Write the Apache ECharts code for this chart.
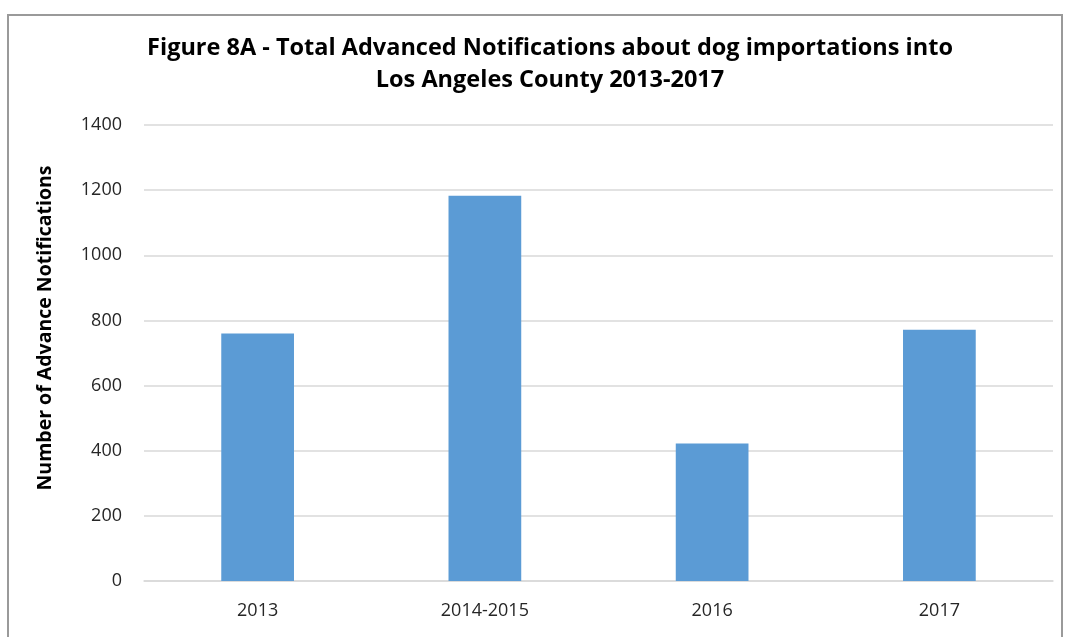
<!DOCTYPE html>
<html><head><meta charset="utf-8">
<script src="https://cdn.jsdelivr.net/npm/echarts@6/dist/echarts.min.js"></script>
<style>html,body{margin:0;padding:0;background:#fff}#c{width:1072px;height:637px}</style>
</head><body><div id="c"></div>
<script>
const categories = ['2013', '2014-2015', '2016', '2017'];
const notifications = [760, 1183, 422, 771];
const yTicks = [0, 200, 400, 600, 800, 1000, 1200, 1400];

const chart = echarts.init(document.getElementById('c'));
const font = '"Open Sans", sans-serif';
chart.setOption({
  animation: false,
  title: {
    text: 'Figure 8A - Total Advanced Notifications about dog importations into\nLos Angeles County 2013-2017',
    left: 545, top: 27, textAlign: 'center',
    textStyle: { fontFamily: font, fontWeight: 'bold', fontSize: 23.5, lineHeight: 32, color: '#000' }
  },
  graphic: [{
    type: 'rect', shape: { x: 8, y: 15, width: 1054, height: 640 },
    style: { fill: 'none', stroke: '#9a9a9a', lineWidth: 2 }, silent: true
  }, {
    type: 'text', x: 45, y: 328, rotation: Math.PI / 2,
    style: { text: 'Number of Advance Notifications', fontFamily: font, fontWeight: 'bold', fontSize: 19.5,
      fill: '#000', align: 'center', verticalAlign: 'middle' }, silent: true
  }],
  grid: { left: 144, right: 19, top: 125, bottom: 56 },
  xAxis: {
    type: 'category', data: categories,
    axisLine: { lineStyle: { color: '#d9d9d9', width: 1.5 } },
    axisTick: { show: false },
    axisLabel: { fontFamily: font, fontSize: 18, color: '#262626', margin: 21 }
  },
  yAxis: {
    type: 'value', min: yTicks[0], max: yTicks[yTicks.length - 1], interval: 200,
    axisLine: { show: false }, axisTick: { show: false },
    splitLine: { lineStyle: { color: '#d9d9d9', width: 1.5 } },
    axisLabel: { fontFamily: font, fontSize: 18, color: '#262626', margin: 22, formatter: v => String(v) }
  },
  series: [{
    type: 'bar', data: notifications, barWidth: '32%',
    itemStyle: { color: '#5B9BD5' }
  }]
});
</script></body></html>
